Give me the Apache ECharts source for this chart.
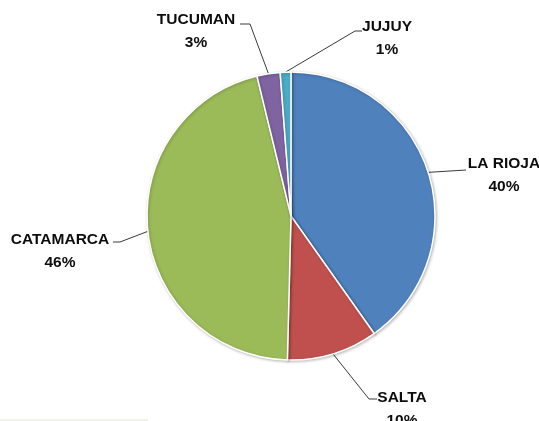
<!DOCTYPE html>
<html>
<head>
<meta charset="utf-8">
<script src="https://cdn.jsdelivr.net/npm/echarts@6/dist/echarts.min.js"></script>
<style>html,body{margin:0;padding:0;background:#fff}#c{width:539px;height:421px}</style>
</head>
<body>
<div id="c"></div>
<script>
const categories = ['LA RIOJA', 'SALTA', 'CATAMARCA', 'TUCUMAN', 'JUJUY'];
const values = [40.2, 10.2, 45.8, 2.6, 1.2];
const colors = ['#4F81BD', '#C0504D', '#9BBB59', '#8064A2', '#4BACC6'];

// label placement (layout only): text block centre, and where the leader line bends/ends
const labelLayoutSpec = [
  { cx: 504, cy: 175, bend: [450, 171], end: [466, 170] },
  { cx: 402, cy: 409, bend: [369, 399], end: [377, 399] },
  { cx: 60,  cy: 251, bend: [120, 242], end: [113, 242] },
  { cx: 196, cy: 31,  bend: [250, 24],  end: [240, 24] },
  { cx: 387, cy: 38,  bend: [355, 31],  end: [362, 31] }
];

const chart = echarts.init(document.getElementById('c'), null, { renderer: 'canvas' });
const data = categories.map((name, i) => ({ name, value: values[i], itemStyle: { color: colors[i] } }));

chart.setOption({
  animation: false,
  backgroundColor: '#fff',
  graphic: [{
    type: 'line', shape: { x1: 0, y1: 420, x2: 148, y2: 420 },
    style: { stroke: '#eceee0', lineWidth: 1.5 }
  }],
  series: [{
    type: 'pie',
    center: [291, 216],
    radius: 144,
    startAngle: 90,
    clockwise: true,
    data,
    itemStyle: {
      borderColor: '#ffffff',
      borderWidth: 1.5,
      shadowBlur: 3,
      shadowColor: 'rgba(0,0,0,0.25)',
      shadowOffsetX: 1,
      shadowOffsetY: 1
    },
    label: {
      show: true,
      formatter: p => p.name + '\n' + Math.round(p.percent) + '%',
      fontFamily: 'Liberation Sans',
      fontWeight: 'bold',
      fontSize: 15.5,
      lineHeight: 23,
      color: '#0d0d0d',
      align: 'center',
      overflow: 'none',
      width: 140
    },
    labelLine: {
      show: true,
      length: 20,
      length2: 10,
      smooth: false,
      lineStyle: { color: '#3a3a3a', width: 1 }
    },
    labelLayout: function (params) {
      const s = labelLayoutSpec[params.dataIndex];
      const start = params.labelLinePoints ? params.labelLinePoints[0] : s.bend;
      return {
        x: s.cx,
        y: s.cy,
        align: 'center',
        verticalAlign: 'middle',
        labelLinePoints: [start, s.bend, s.end]
      };
    },
    emphasis: { disabled: true }
  }]
});
</script>
</body>
</html>
